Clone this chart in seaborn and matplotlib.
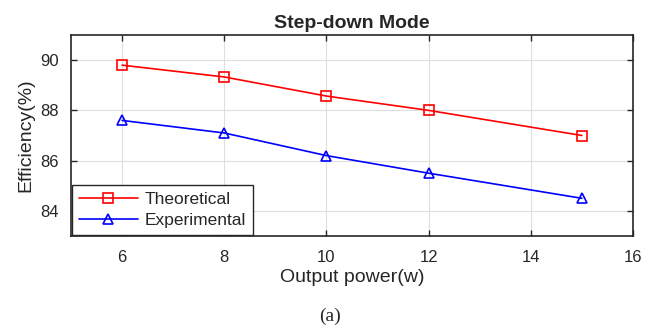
import matplotlib
matplotlib.use("Agg")
import matplotlib.pyplot as plt
import seaborn as sns
import pandas as pd

# Output power (W) and efficiency (%) for each series
power = [6, 8, 10, 12, 15]
theoretical = [89.8, 89.33, 88.57, 88.0, 87.0]
experimental = [87.6, 87.1, 86.2, 85.5, 84.5]
series_names = ["Theoretical", "Experimental"]

df = pd.DataFrame({
    "power": power * 2,
    "eff": theoretical + experimental,
    "series": [series_names[0]] * len(power) + [series_names[1]] * len(power),
})

sns.set_theme(style="whitegrid")
plt.rcParams["font.family"] = ["Liberation Sans", "DejaVu Sans"]

fig = plt.figure(figsize=(6.61, 3.29), dpi=100)
ax = fig.add_axes([71 / 661, 1 - 236 / 329, (633 - 71) / 661, (236 - 35) / 329])

sns.lineplot(data=df, x="power", y="eff", hue="series", style="series",
             palette={"Theoretical": "#ff0000", "Experimental": "#0000ff"},
             markers={"Theoretical": "s", "Experimental": "^"},
             dashes=False, markersize=7, markerfacecolor="none",
             markeredgewidth=1.2, linewidth=1.2, ax=ax)
for line in ax.lines:
    line.set_markeredgecolor(line.get_color())
    line.set_markerfacecolor("none")

ax.set_xlim(5, 16)
ax.set_ylim(83, 91)
ax.set_xticks(range(6, 17, 2))
ax.set_yticks([84, 86, 88, 90])
ax.grid(True, color="#dedede", linewidth=0.8)
ax.set_facecolor("white")
for s in ax.spines.values():
    s.set_color("#262626")
    s.set_linewidth(1.2)
ax.tick_params(direction="in", length=4, width=1.0, colors="#262626",
               labelcolor="#262626", labelsize=12, top=True, right=True,
               bottom=True, left=True)
ax.tick_params(axis="x", pad=10)
ax.tick_params(axis="y", pad=9)
ax.set_xlabel("Output power(w)", fontsize=14, color="#262626", labelpad=3)
ax.set_ylabel("Efficiency(%)", fontsize=14, color="#262626", labelpad=4)
ax.set_title("Step-down Mode", fontsize=14, fontweight="bold", pad=5)

handles, labels = ax.get_legend_handles_labels()
leg = ax.legend(handles, labels, loc="lower left", fontsize=12.5, frameon=True,
                fancybox=False, edgecolor="#262626", framealpha=1,
                borderaxespad=0.05, handlelength=3.4, handletextpad=0.4,
                borderpad=0.4, labelspacing=0.35)
leg.get_frame().set_linewidth(1.0)

fig.text(0.5, 1 - 316 / 329, "(a)", ha="center", va="center",
         fontsize=14, family=["Liberation Serif", "DejaVu Serif"])

fig.savefig("out.png", dpi=100)
